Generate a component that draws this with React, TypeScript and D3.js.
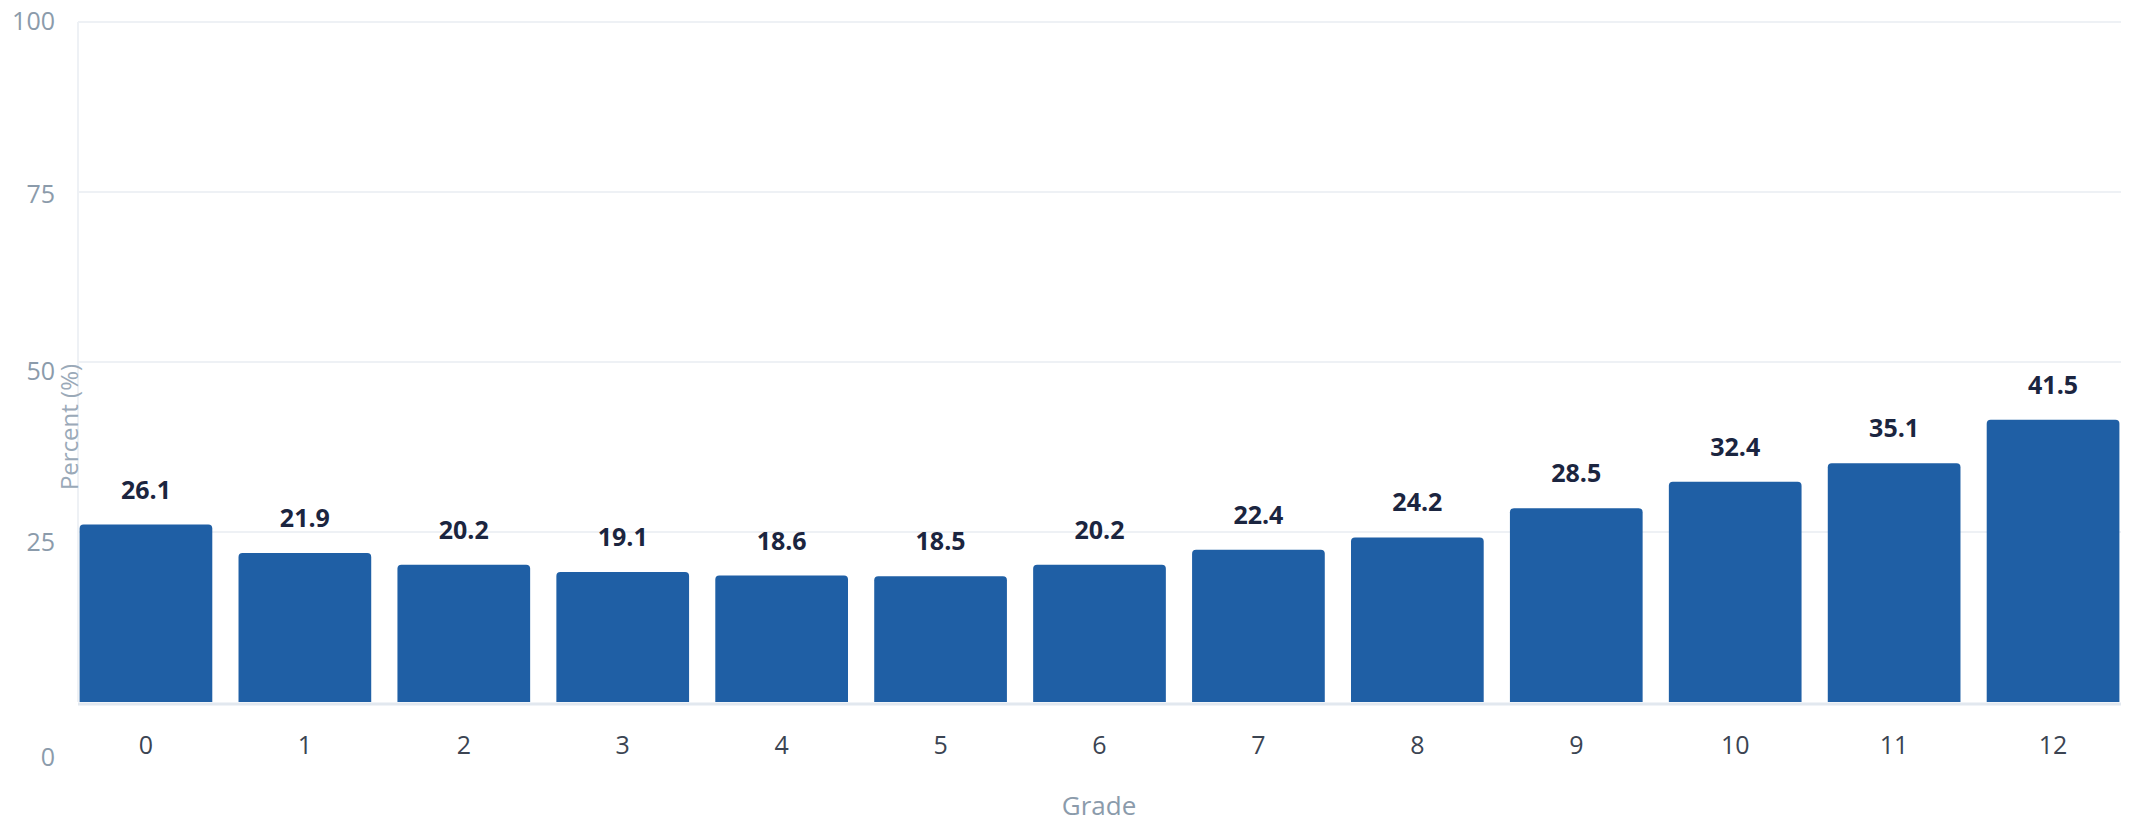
import React from "react";
import * as d3 from "d3";

const grades = ["0", "1", "2", "3", "4", "5", "6", "7", "8", "9", "10", "11", "12"];
const percents = [26.1, 21.9, 20.2, 19.1, 18.6, 18.5, 20.2, 22.4, 24.2, 28.5, 32.4, 35.1, 41.5];
const yTicks = [0, 25, 50, 75, 100];
const yTickLabelNudge = [55, 10, 9, 2, -1];

const W = 2136;
const H = 824;
const FONT = "'Open Sans', 'Noto Sans', sans-serif";

export default function App() {
  const x = d3.scaleBand<string>().domain(grades).range([78, 2121]).paddingInner(0.165).paddingOuter(0.01);
  const y = d3.scaleLinear().domain([0, 100]).range([702, 22]);
  const r = 4;
  const barPath = (x0: number, w: number, yTop: number, yBot: number) =>
    `M${x0},${yBot}V${yTop + r}Q${x0},${yTop} ${x0 + r},${yTop}H${x0 + w - r}Q${x0 + w},${yTop} ${x0 + w},${yTop + r}V${yBot}Z`;

  return (
    <svg width={W} height={H} style={{ position: "absolute", left: 0, top: 0, background: "#fff" }} fontFamily={FONT}>
      {yTicks.filter((t) => t > 0).map((t) => (
        <line key={t} x1={78} x2={2121} y1={y(t)} y2={y(t)} stroke="#eef1f5" strokeWidth={2} />
      ))}
      <line x1={78} x2={78} y1={y(100)} y2={y(0)} stroke="#eef1f5" strokeWidth={2} />
      {yTicks.map((t, i) => (
        <text key={t} x={55} y={y(t) + yTickLabelNudge[i]} dy="0.35em" textAnchor="end" fontSize={25} fill="#8b9bab">
          {t}
        </text>
      ))}
      <text transform={`translate(${78},${427}) rotate(-90)`} textAnchor="middle" fontSize={24} fill="#9aa9b8">
        Percent (%)
      </text>
      {grades.map((g, i) => {
        const x0 = x(g)!;
        const w = x.bandwidth();
        const yt = y(percents[i]);
        return (
          <g key={g}>
            <path d={barPath(x0, w, yt, y(0))} fill="#1f5fa5" />
            <text x={x0 + w / 2} y={yt - 26} textAnchor="middle" fontSize={25} fontWeight={700} fill="#1b2540">
              {percents[i]}
            </text>
            <text x={x0 + w / 2} y={745} dy="0.35em" textAnchor="middle" fontSize={25} fill="#3b4452">
              {g}
            </text>
          </g>
        );
      })}
      <line x1={78} x2={2121} y1={y(0) + 2} y2={y(0) + 2} stroke="#e2e8ef" strokeWidth={3} />
      <text x={1099} y={806} dy="0.35em" textAnchor="middle" fontSize={26} fill="#8b9bab">
        Grade
      </text>
    </svg>
  );
}
